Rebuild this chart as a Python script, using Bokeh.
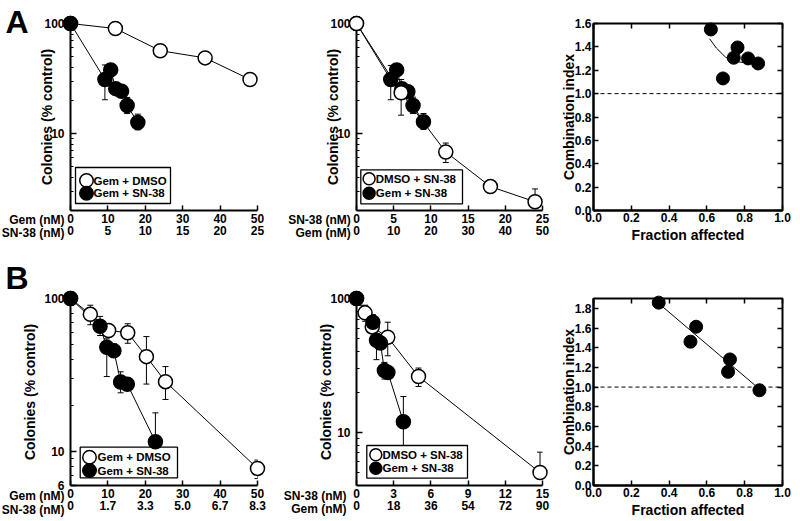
import math
from bokeh.plotting import figure
from bokeh.models import (ColumnDataSource, Whisker, FixedTicker, LinearAxis, BoxAnnotation,
                          Range1d, Span, PrintfTickFormatter, TeeHead)
from bokeh.layouts import row, column
from bokeh.embed import file_html
from bokeh.resources import INLINE
from bokeh.core.properties import value

FONT = "Liberation Sans"

# ---------------- Panel A1 (x: Gem nM; second row SN-38 nM) ----------------
a1_ticks = [0, 10, 20, 30, 40, 50]
a1_row2 = ["0", "5", "10", "15", "20", "25"]
a1_open_x = [0, 12, 24, 36, 48]
a1_open_y = [100, 90, 56.6, 48.7, 31.0]
a1_open_hi = [100, 90, 56.6, 48.7, 33.4]
a1_open_lo = [100, 90, 56.6, 48.7, 28.3]
a1_fill_x = [0, 9.2, 10.75, 12.1, 13.65, 15.15, 18.0]
a1_fill_y = [100, 31.0, 37.9, 25.6, 24.2, 18.0, 12.6]
a1_fill_hi = [100, 42.0, 37.9, 25.6, 24.2, 21.3, 15.0]
a1_fill_lo = [100, 20.3, 37.9, 25.6, 24.2, 15.2, 10.8]

# ---------------- Panel A2 (x: SN-38 nM; second row Gem nM) ----------------
a2_ticks = [0, 5, 10, 15, 20, 25]
a2_row2 = ["0", "10", "20", "30", "40", "50"]
a2_open_x = [0, 6, 12, 18, 24]
a2_open_y = [100, 23.5, 6.8, 3.3, 2.4]
a2_open_hi = [100, 31.0, 8.2, 3.6, 3.14]
a2_open_lo = [100, 14.7, 5.46, 3.05, 2.4]
a2_fill_x = [0, 4.6, 5.4, 6.1, 6.9, 7.6, 9.0]
a2_fill_y = [100, 31.0, 37.9, 25.6, 24.0, 18.0, 12.8]
a2_fill_hi = [100, 41.6, 37.9, 25.6, 24.0, 21.4, 15.2]
a2_fill_lo = [100, 20.3, 37.9, 25.6, 24.0, 15.2, 10.9]

# ---------------- Panel A3 (combination index) ----------------
a3_fa = [0.621, 0.685, 0.742, 0.762, 0.818, 0.871]
a3_ci = [1.549, 1.130, 1.307, 1.395, 1.301, 1.258]
a3_fit_fa = [0.614, 0.65, 0.70, 0.75, 0.80, 0.83]
a3_fit_ci = [1.47, 1.39, 1.31, 1.275, 1.265, 1.275]

# ---------------- Panel B1 (x: Gem nM; second row SN-38 nM) ----------------
b1_ticks = [0, 10, 20, 30, 40, 50]
b1_row2 = ["0", "1.7", "3.3", "5.0", "6.7", "8.3"]
b1_open_x = [0, 5.3, 10.2, 15.3, 20.3, 25.4, 50]
b1_open_y = [100, 78.8, 61.8, 59.7, 41.7, 28.6, 7.76]
b1_open_hi = [100, 90.4, 61.8, 68.4, 56.4, 35.9, 8.8]
b1_open_lo = [100, 67.4, 61.8, 51.0, 27.6, 21.9, 6.66]
b1_fill_x = [0, 7.9, 9.7, 11.6, 13.4, 15.2, 22.7]
b1_fill_y = [100, 65.9, 48.0, 45.6, 28.5, 27.5, 11.6]
b1_fill_hi = [100, 76.4, 54.5, 50.5, 33.2, 27.5, 17.9]
b1_fill_lo = [100, 57.3, 30.9, 41.2, 24.2, 27.5, 7.5]

# ---------------- Panel B2 (x: SN-38 nM; second row Gem nM) ----------------
b2_ticks = [0, 3, 6, 9, 12, 15]
b2_row2 = ["0", "18", "36", "54", "72", "90"]
b2_open_x = [0, 0.69, 1.27, 2.52, 5.0, 14.8]
b2_open_y = [100, 78.1, 61.3, 51.3, 26.1, 5.0]
b2_open_hi = [100, 89.1, 61.3, 66.5, 30.2, 7.1]
b2_open_lo = [100, 67.6, 61.3, 37.3, 22.0, 4.6]
b2_fill_x = [0, 1.32, 1.61, 1.93, 2.25, 2.53, 3.78]
b2_fill_y = [100, 66.4, 48.7, 46.5, 29.0, 28.0, 12.0]
b2_fill_hi = [100, 75.8, 54.0, 46.5, 33.3, 28.0, 18.5]
b2_fill_lo = [100, 57.0, 34.9, 46.5, 25.0, 28.0, 7.0]

# ---------------- Panel B3 (combination index) ----------------
b3_fa = [0.345, 0.513, 0.543, 0.712, 0.722, 0.878]
b3_ci = [1.858, 1.461, 1.613, 1.155, 1.281, 0.968]
b3_fit_fa = [0.345, 0.878]
b3_fit_ci = [1.85, 0.98]

ci_xticks = [0.0, 0.2, 0.4, 0.6, 0.8, 1.0]
a3_yticks = [0.0, 0.2, 0.4, 0.6, 0.8, 1.0, 1.2, 1.4, 1.6]
b3_yticks = [0.0, 0.2, 0.4, 0.6, 0.8, 1.0, 1.2, 1.4, 1.6, 1.8]


def style_axis(ax, tick_in=5):
    ax.axis_line_width = 2
    ax.axis_line_color = "black"
    ax.major_tick_in = tick_in
    ax.major_tick_out = 0
    ax.minor_tick_in = 3
    ax.minor_tick_out = 0
    ax.major_tick_line_width = 1.5
    ax.minor_tick_line_width = 1
    ax.major_tick_line_color = "black"
    ax.minor_tick_line_color = "black"
    ax.major_label_text_font = FONT
    ax.major_label_text_font_style = "bold"
    ax.major_label_text_font_size = "12px"
    ax.major_label_text_color = "black"
    ax.major_label_standoff = 3
    ax.axis_label_text_font = FONT
    ax.axis_label_text_font_style = "bold"
    ax.axis_label_text_font_size = "14px"
    ax.axis_label_text_color = "black"


class Panel:
    """A figure plus the size of its frame, to place texts relative to the frame."""

    def __init__(self, width, height, bl, br, bt, bb, xr, yr, ylog):
        self.xr, self.yr, self.ylog = xr, yr, ylog
        self.fw = width - bl - br
        self.fh = height - bt - bb
        p = figure(width=width, height=height, x_range=Range1d(*xr), y_range=Range1d(*yr),
                   y_axis_type="log" if ylog else "linear",
                   output_backend="svg", toolbar_location=None,
                   min_border_left=bl, min_border_right=br,
                   min_border_top=bt, min_border_bottom=bb)
        p.grid.visible = False
        p.background_fill_color = "white"
        p.border_fill_color = "white"
        self.p = p

    def at(self, dx, dy):
        """Data coordinates of a point dx, dy pixels from the frame's bottom-left corner."""
        x = self.xr[0] + dx * (self.xr[1] - self.xr[0]) / self.fw
        if self.ylog:
            l0, l1 = math.log10(self.yr[0]), math.log10(self.yr[1])
            y = 10 ** (l0 + dy * (l1 - l0) / self.fh)
        else:
            y = self.yr[0] + dy * (self.yr[1] - self.yr[0]) / self.fh
        return x, y

    def text(self, txt, dx, dy, size="12px", align="right", baseline="middle"):
        x, y = self.at(dx, dy)
        self.p.text(x=[x], y=[y], text=[txt], text_font=value(FONT), text_font_style="bold",
                    text_font_size=value(size), text_align=align, text_baseline=baseline,
                    text_color="black", level="overlay")


def add_series(p, xs, ys, his, los, filled):
    keep = [i for i in range(len(xs)) if his[i] != los[i]]
    src = ColumnDataSource(dict(x=[xs[i] for i in keep], hi=[his[i] for i in keep],
                                lo=[los[i] for i in keep]))
    w = Whisker(source=src, base="x", upper="hi", lower="lo", line_color="black", line_width=1,
                upper_head=TeeHead(size=6, line_width=1, line_color="black"),
                lower_head=TeeHead(size=6, line_width=1, line_color="black"))
    p.add_layout(w)
    p.line(xs, ys, line_color="black", line_width=1)
    p.scatter(xs, ys, marker="circle", size=14, line_color="black", line_width=1.5,
              fill_color="black" if filled else "white", level="overlay")


def legend_box(pn, labels, box, mx, my_open, my_fill, tx, msize):
    x0, y0 = pn.at(box[0], box[2])
    x1, y1 = pn.at(box[1], box[3])
    pn.p.add_layout(BoxAnnotation(left=x0, right=x1, bottom=y0, top=y1, fill_color="white",
                                  fill_alpha=1, line_color="black", line_alpha=1,
                                  line_width=1.3))
    for lab, my, fill in ((labels[0], my_open, "white"), (labels[1], my_fill, "black")):
        x, y = pn.at(mx, my)
        pn.p.scatter([x], [y], marker="circle", size=msize, line_color="black",
                     line_width=1.5, fill_color=fill, level="overlay")
        pn.text(lab, tx, my, size="11.5px", align="left")


def dose_panel(width, height, bl, br, bt, bb, x_end, y_start, y_major, y_minor, y_title_standoff,
               ticks, row2, name1, name2, name_dx, name_dy, open_s, fill_s, open_on_top=False):
    pn = Panel(width, height, bl, br, bt, bb, (0, x_end), (y_start, 100), True)
    p = pn.p
    p.outline_line_color = None
    ax = p.xaxis[0]
    style_axis(ax)
    ax.ticker = FixedTicker(ticks=ticks)
    ax.formatter = PrintfTickFormatter(format="%d")
    ay = p.yaxis[0]
    style_axis(ay, tick_in=6)
    ay.ticker = FixedTicker(ticks=y_major, minor_ticks=y_minor)
    ay.formatter = PrintfTickFormatter(format="%d")
    ay.major_label_standoff = 6
    ay.axis_label = "Colonies (% control)"
    ay.axis_label_standoff = y_title_standoff
    ax2 = LinearAxis(ticker=FixedTicker(ticks=ticks),
                     major_label_overrides={t: l for t, l in zip(ticks, row2)})
    style_axis(ax2)
    ax2.axis_line_color = None
    ax2.major_tick_line_color = None
    ax2.minor_tick_line_color = None
    ax2.major_label_standoff = 0
    p.add_layout(ax2, "below")
    pn.text(name1, name_dx, name_dy[0])
    pn.text(name2, name_dx, name_dy[1])
    if open_on_top:
        add_series(p, *fill_s, filled=True)
        add_series(p, *open_s, filled=False)
    else:
        add_series(p, *open_s, filled=False)
        add_series(p, *fill_s, filled=True)
    return pn


def ci_panel(width, height, bl, br, bt, bb, y_end, yticks, fa, ci, fit_fa, fit_ci):
    pn = Panel(width, height, bl, br, bt, bb, (0, 1), (0, y_end), False)
    p = pn.p
    p.outline_line_color = "black"
    p.outline_line_width = 2
    ax = p.xaxis[0]
    style_axis(ax)
    ax.ticker = FixedTicker(ticks=ci_xticks)
    ax.formatter = PrintfTickFormatter(format="%.1f")
    ax.axis_label = "Fraction affected"
    ax.axis_label_standoff = 2
    ax.major_label_standoff = 2
    ay = p.yaxis[0]
    style_axis(ay)
    ay.ticker = FixedTicker(ticks=yticks)
    ay.formatter = PrintfTickFormatter(format="%.1f")
    ay.axis_label = "Combination index"
    ay.axis_label_standoff = -5
    ay.major_label_standoff = 2
    for loc, tks in (("above", ci_xticks), ("right", yticks)):
        a = LinearAxis(ticker=FixedTicker(ticks=tks),
                       major_label_overrides={t: "" for t in tks})
        style_axis(a)
        a.major_label_standoff = 0
        a.axis_line_color = None
        p.add_layout(a, loc)
    p.add_layout(Span(location=1.0, dimension="width", line_color="black",
                      line_width=1, line_dash="4 3"))
    p.line(fit_fa, fit_ci, line_color="black", line_width=1)
    p.scatter(fa, ci, marker="circle", size=13, fill_color="black", line_color="black",
              level="overlay")
    return pn


W1, W2, W3 = 272, 278, 242
HA, HB = 255, 266
MINORS_A = [3, 4, 5, 6, 7, 8, 9, 20, 30, 40, 50, 60, 70, 80, 90]

pA1 = dose_panel(W1, HA, 70, 15, 23, 45, 50, 2, [10, 100], MINORS_A, -14,
                 a1_ticks, a1_row2, "Gem (nM)", "SN-38 (nM)", -6, (-9.5, -22.7),
                 (a1_open_x, a1_open_y, a1_open_hi, a1_open_lo),
                 (a1_fill_x, a1_fill_y, a1_fill_hi, a1_fill_lo))
legend_box(pA1, ("Gem + DMSO", "Gem + SN-38"), (5, 100, 7, 43), 16, 30, 17.3, 23, 13.5)
pA1.text("A", -65, 189, size="32px", align="left", baseline="middle")

pA2 = dose_panel(W2, HA, 84, 8, 23, 45, 25, 2, [10, 100], MINORS_A, -14,
                 a2_ticks, a2_row2, "SN-38 (nM)", "Gem (nM)", -5.7, (-9.5, -22.7),
                 (a2_open_x, a2_open_y, a2_open_hi, a2_open_lo),
                 (a2_fill_x, a2_fill_y, a2_fill_hi, a2_fill_lo), open_on_top=True)
legend_box(pA2, ("DMSO + SN-38", "Gem + SN-38"), (4.3, 106, 6.7, 40.7), 12.6, 31.7, 17.3, 19.3, 12)

pA3 = ci_panel(W3, HA, 43, 10, 23, 45, 1.6, a3_yticks, a3_fa, a3_ci, a3_fit_fa, a3_fit_ci)

pB1 = dose_panel(W1, HB, 70, 15, 43, 36, 50, 6, [6, 10, 100], [7, 8, 9, 20, 30, 40, 50, 60, 70, 80, 90], 3,
                 b1_ticks, b1_row2, "Gem (nM)", "SN-38 (nM)", -6, (-10, -24),
                 (b1_open_x, b1_open_y, b1_open_hi, b1_open_lo),
                 (b1_fill_x, b1_fill_y, b1_fill_hi, b1_fill_lo))
legend_box(pB1, ("Gem + DMSO", "Gem + SN-38"), (9.7, 107, 7.7, 38.3), 19, 28.3, 15, 27, 13.5)
pB1.text("B", -65, 208, size="32px", align="left", baseline="middle")

pB2 = dose_panel(W2, HB, 84, 8, 43, 36, 15, 4, [10, 100], [5, 6, 7, 8, 9, 20, 30, 40, 50, 60, 70, 80, 90], -7,
                 b2_ticks, b2_row2, "SN-38 (nM)", "Gem (nM)", -10, (-10, -23.3),
                 (b2_open_x, b2_open_y, b2_open_hi, b2_open_lo),
                 (b2_fill_x, b2_fill_y, b2_fill_hi, b2_fill_lo))
legend_box(pB2, ("DMSO + SN-38", "Gem + SN-38"), (10.3, 111, 7.3, 40), 19.3, 30.7, 17.3, 26, 12)

pB3 = ci_panel(W3, HB, 43, 10, 43, 36, 1.9, b3_yticks, b3_fa, b3_ci, b3_fit_fa, b3_fit_ci)

layout = column(row(pA1.p, pA2.p, pA3.p), row(pB1.p, pB2.p, pB3.p))

open("out.html", "w").write(file_html(layout, INLINE))
